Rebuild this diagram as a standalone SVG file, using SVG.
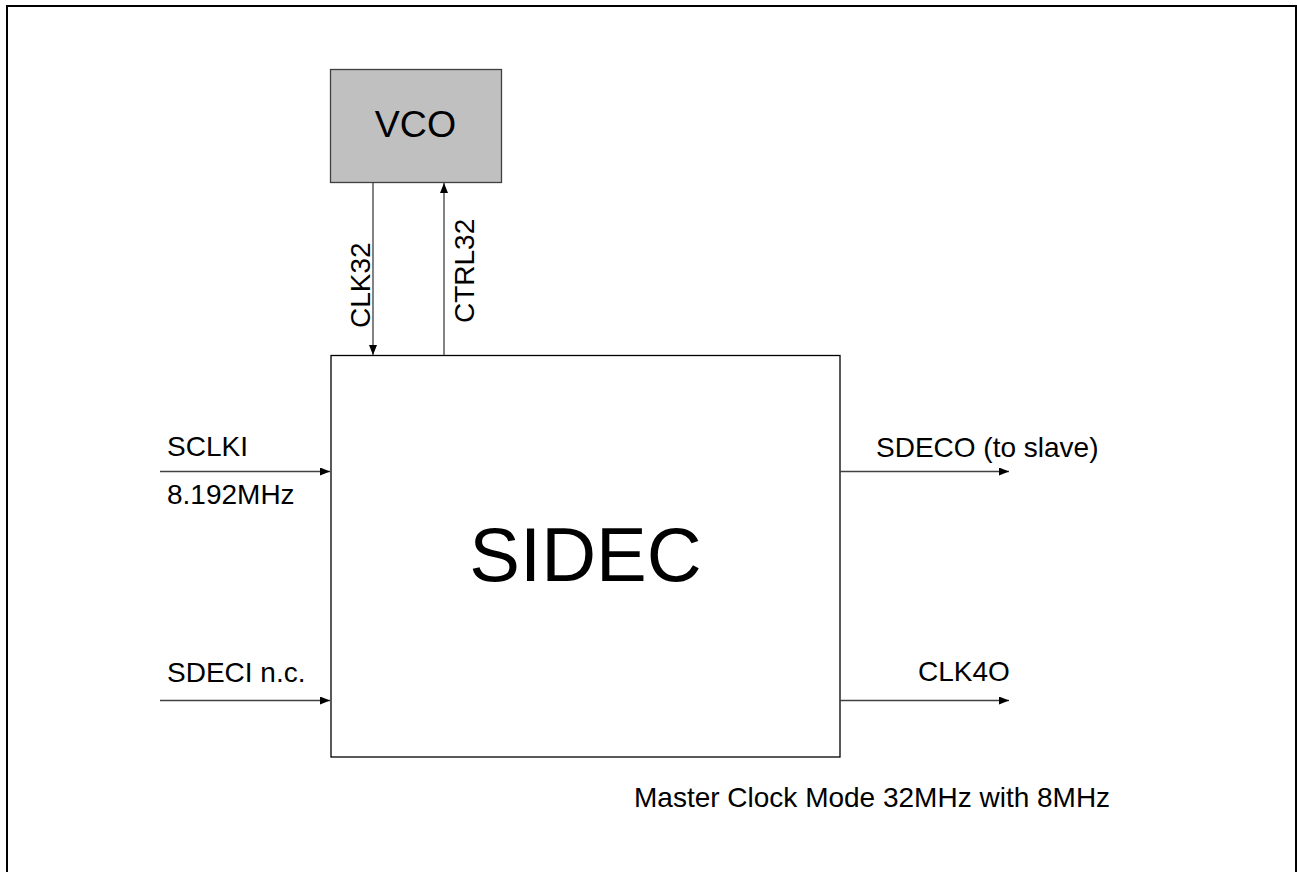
<svg xmlns="http://www.w3.org/2000/svg" width="1297" height="872" viewBox="0 0 1297 872">
<style>
text { font-family: "Liberation Sans", Arial, sans-serif; fill: #000; }
.lbl { font-size: 28px; }
.conn { stroke: #404040; stroke-width: 1.3; fill: none; }
</style>
<defs>
<marker id="ah" viewBox="0 0 10 8" refX="10" refY="4" markerWidth="10" markerHeight="8" markerUnits="userSpaceOnUse" orient="auto">
<path d="M0,0 L10,4 L0,8 Z" fill="#000"/>
</marker>
</defs>
<rect x="0" y="0" width="1297" height="872" fill="#fff"/>
<rect x="7" y="6" width="1289" height="900" fill="none" stroke="#000" stroke-width="2"/>
<g id="vco">
<rect x="330.5" y="69.5" width="171" height="113" fill="#c0c0c0" stroke="#404040" stroke-width="1.3"/>
<text x="415.5" y="137" font-size="37.5" text-anchor="middle">VCO</text>
</g>
<g id="sidec">
<rect x="331" y="355.5" width="509" height="401.5" fill="#fff" stroke="#000" stroke-width="1.3"/>
<text x="585.5" y="581" font-size="76" text-anchor="middle">SIDEC</text>
</g>
<g id="connectors">
<line class="conn" x1="373" y1="183" x2="373" y2="355" marker-end="url(#ah)"/>
<line class="conn" x1="444" y1="355" x2="444" y2="183" marker-end="url(#ah)"/>
<line class="conn" x1="160" y1="471.5" x2="330" y2="471.5" marker-end="url(#ah)"/>
<line class="conn" x1="160" y1="700.5" x2="330" y2="700.5" marker-end="url(#ah)"/>
<line class="conn" x1="840" y1="471.5" x2="1009" y2="471.5" marker-end="url(#ah)"/>
<line class="conn" x1="840" y1="700.5" x2="1009" y2="700.5" marker-end="url(#ah)"/>
</g>
<g id="labels">
<text class="lbl" transform="translate(370,328) rotate(-90)">CLK32</text>
<text class="lbl" transform="translate(474,323) rotate(-90)">CTRL32</text>
<text class="lbl" x="167" y="456">SCLKI</text>
<text class="lbl" x="167" y="504">8.192MHz</text>
<text class="lbl" x="167" y="682">SDECI n.c.</text>
<text class="lbl" x="876" y="457">SDECO (to slave)</text>
<text class="lbl" x="918" y="681">CLK4O</text>
<text class="lbl" x="634" y="807" font-size="28.2">Master Clock Mode 32MHz with 8MHz</text>
</g>
</svg>
